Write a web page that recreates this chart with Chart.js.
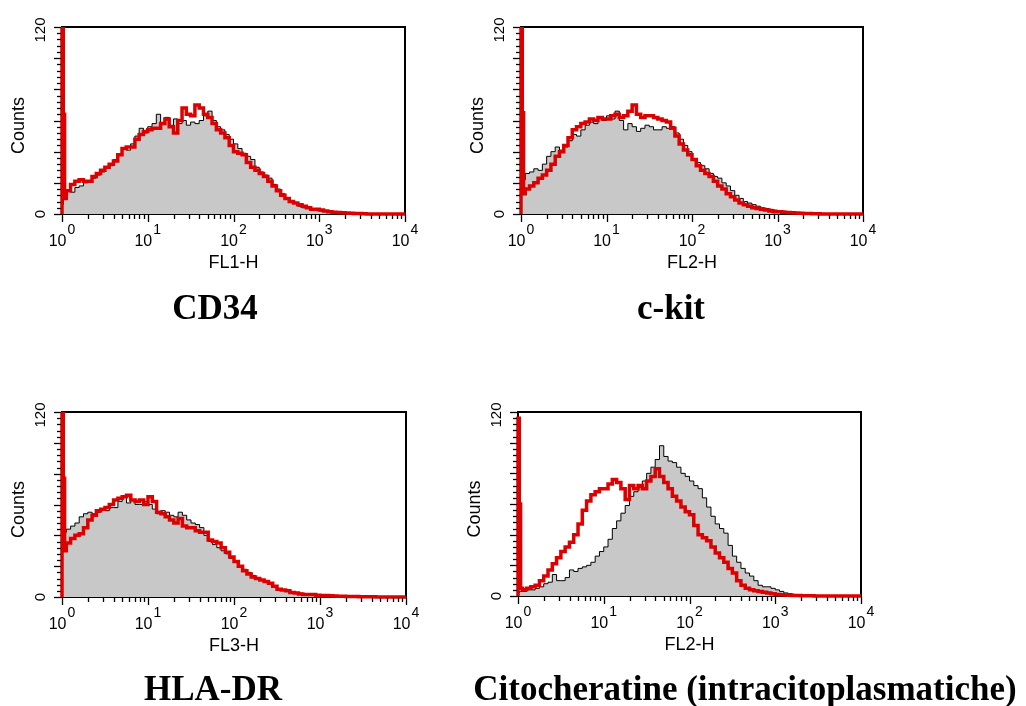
<!DOCTYPE html>
<html><head><meta charset="utf-8">
<script src="https://cdn.jsdelivr.net/npm/chart.js@4.4.0/dist/chart.umd.min.js"></script>
<style>
html,body{margin:0;padding:0;background:#fff;width:1026px;height:706px;overflow:hidden;}
.p{position:absolute;}
</style></head><body>
<div class="p" style="left:0;top:0;width:460px;height:353px"><canvas id="c1"></canvas></div>
<div class="p" style="left:460px;top:0;width:566px;height:353px"><canvas id="c2"></canvas></div>
<div class="p" style="left:0;top:353px;width:460px;height:353px"><canvas id="c3"></canvas></div>
<div class="p" style="left:460px;top:353px;width:566px;height:353px"><canvas id="c4"></canvas></div>
<script>
// channel positions in decades (log10 of fluorescence)
const channels = [0,0,0.015,0.03,
0.05,0.1,0.15,0.2,0.25,0.3,0.35,0.4,0.45,0.5,
0.55,0.6,0.65,0.7,0.75,0.8,0.85,0.9,0.95,1.0,
1.05,1.1,1.15,1.2,1.25,1.3,1.35,1.4,1.45,1.5,
1.55,1.6,1.65,1.7,1.75,1.8,1.85,1.9,1.95,2.0,
2.05,2.1,2.15,2.2,2.25,2.3,2.35,2.4,2.45,2.5,
2.55,2.6,2.65,2.7,2.75,2.8,2.85,2.9,2.95,3.0,
3.05,3.1,3.15,3.2,3.25,3.3,3.35,3.4,3.45,3.5,
3.55,3.6,3.65,3.7,3.75,3.8,3.85,3.9,3.95,4.0];

const titles = ['CD34','c-kit','HLA-DR','Citocheratine (intracitoplasmatiche)'];
const xAxisTitles = ['FL1-H','FL2-H','FL3-H','FL2-H'];
const yAxisTitle = 'Counts';
const xTickDecades = [0,1,2,3,4];
const xTickBase = '10';
const xTickExponents = ['0','1','2','3','4'];
const yTickValues = [0,120];
const yTickLabels = ['0','120'];

const cd34Control = [0,6,10,13,
15,14,17,18,20,21,23,25,27,30,
31,35,38,42,41,45,50,55,52,56,
58,64,58,62,57,61,58,60,57,59,
58,60,63,66,60,56,54,51,48,45,
42,39,37,35,30,27,25,23,19,16,
13,10,8,7,5,4,3.5,3,2.5,2,
2,1.5,1.2,1,0.8,0.5,0.5,0.3,0.3,0.2,
0.2,0,0,0,0,0,0,0,0,0];
const cd34Sample = [0,125,64,10,
15,19,21,22,21,21,24,26,28,30,
32,34,38,42,43,43,48,51,53,54,
55,55,58,61,56,52,60,68,64,63,
70,68,64,62,58,54,52,49,44,40,
39,38,33,30,28,26,24,21,18,15,
12,10,8,7,6,5,4,3,3,2.6,
2,1.5,1.2,1,0.8,0.6,0.5,0.3,0.3,0.2,
0,0,0,0,0,0,0,0,0,0];

const ckitControl = [0,20,24,22,
26,27,29,28,32,37,40,43,41,43,
47,51,50,54,57,59,58,62,60,63,
61,66,60,54,58,56,53,55,57,56,
54,54,56,55,56,52,48,44,40,35,
33,31,29,26,24,23,20,18,15,12,
10,8,7,6,5,4,3.5,3,2.5,2,
1.8,1.5,1.2,1,0.8,0.5,0.4,0.3,0.2,0.2,
0.1,0,0,0,0,0,0,0,0,0];
const ckitSample = [0,125,65,13,
16,18,20,23,25,28,32,37,40,44,
49,54,56,58,59,61,60,62,61,61,
63,64,62,63,66,70,64,62,63,63,
62,61,60,59,55,50,45,41,38,35,
31,28,26,24,21,18,16,13,11,9,
7,6,5,4,3.5,3,2.5,2,1.5,1.5,
1.2,1,0.8,0.6,0.5,0.4,0.3,0.2,0.1,0,
0,0,0,0,0,0,0,0,0,0];

const hladrControl = [0,30,40,42,
44,46,48,52,54,55,54,55,57,56,
58,58,62,65,61,63,60,60,62,60,
57,54,56,55,53,52,55,53,50,48,
47,45,40,36,34,32,30,28,25,23,
20,18,16,14,12,11,10,9,7,5,
4.5,4,3.5,3,2.5,2,1.8,1.7,1.5,1.3,
1.1,1,0.8,0.6,0.5,0.4,0.3,0.3,0.2,0.2,
0.1,0,0,0,0,0,0,0,0,0];
const hladrSample = [0,125,77,30,
35,38,40,41,45,50,53,56,57,58,
60,63,64,65,66,63,62,63,60,65,
62,55,54,52,50,48,51,46,45,45,
43,42,42,37,36,35,32,29,26,23,
20,17,15,13,12,11,10,9,7,5,
4.5,4,3,2.6,2,1.7,1.7,1.7,1.2,1,
1,0.8,0.6,0.5,0.5,0.4,0.3,0.3,0.2,0.2,
0.2,0.2,0,0,0,0,0,0,0,0.8];

const ckControl = [0,2,3,3,
3,4,4,5,6,8,9,14,10,10,
12,17,16,18,19,20,22,26,29,32,
37,44,49,54,59,65,68,71,75,80,
84,89,98,91,88,87,84,80,78,75,
72,70,64,58,52,47,44,41,33,26,
22,18,15,13,10,7,6,6,5,4,
3,2,1.5,1,0.8,0.6,0.5,0.4,0.3,0.3,
0.2,0.2,0.1,0,0,0,0,0,0,0];
const ckSample = [0,116,60,5,
4,5,6,7,10,13,17,21,25,29,
32,35,40,47,56,62,66,68,70,70,
73,76,74,70,63,72,70,72,70,75,
78,83,78,74,70,65,62,58,55,53,
46,40,38,36,32,28,25,22,18,15,
10,7,5,4,3.5,3,2.5,2,1.5,1,
0.8,0.6,0.5,0.4,0.3,0.2,0.2,0.1,0,0,
0,0,0,0,0,0,0,0,0,0];

const controls = [cd34Control, ckitControl, hladrControl, ckControl];
const samples = [cd34Sample, ckitSample, hladrSample, ckSample];

// layout (presentation only)
const layouts = [
  {id:'c1', pad:{left:62,right:55,top:27,bottom:139}, titleX:215, titleY:319},
  {id:'c2', pad:{left:61,right:163,top:27,bottom:139}, titleX:211, titleY:319},
  {id:'c3', pad:{left:62,right:54,top:59,bottom:109}, titleX:213, titleY:347},
  {id:'c4', pad:{left:58,right:165,top:59,bottom:110}, titleX:285, titleY:347}
];

const facsAxes = {
  id: 'facsAxes',
  beforeDatasetsDraw(chart) {
    const {ctx, chartArea: a} = chart;
    ctx.save();
    ctx.strokeStyle = '#000'; ctx.lineWidth = 2;
    ctx.strokeRect(a.left, a.top, a.right - a.left, a.bottom - a.top);
    ctx.restore();
  },
  afterDraw(chart, args, o) {
    const {ctx, chartArea: a, scales: {x, y}} = chart;
    ctx.save();
    ctx.strokeStyle = '#000'; ctx.lineWidth = 1.3;
    for (let v = 0; v <= 120; v += 4) {
      const py = Math.round(y.getPixelForValue(v)) + 0.5;
      const len = v % 20 === 0 ? 7 : 4;
      ctx.beginPath(); ctx.moveTo(a.left - 1, py); ctx.lineTo(a.left - 1 - len, py); ctx.stroke();
    }
    xTickDecades.forEach((n, i) => {
      const px = Math.round(x.getPixelForValue(n)) + 0.5;
      ctx.beginPath(); ctx.moveTo(px, a.bottom + 1); ctx.lineTo(px, a.bottom + 8); ctx.stroke();
      if (i < xTickDecades.length - 1) {
        for (let k = 2; k <= 9; k++) {
          const mx = Math.round(x.getPixelForValue(n + Math.log10(k))) + 0.5;
          ctx.beginPath(); ctx.moveTo(mx, a.bottom + 1); ctx.lineTo(mx, a.bottom + 5); ctx.stroke();
        }
      }
    });
    ctx.fillStyle = '#000';
    ctx.textBaseline = 'alphabetic';
    xTickDecades.forEach((n, i) => {
      const px = x.getPixelForValue(n);
      ctx.font = '16px "Liberation Sans", Arial, sans-serif';
      const w1 = ctx.measureText(xTickBase).width;
      ctx.font = '14px "Liberation Sans", Arial, sans-serif';
      const w2 = ctx.measureText(xTickExponents[i]).width;
      const sx = px - (w1 + w2 + 1) / 2;
      ctx.font = '16px "Liberation Sans", Arial, sans-serif';
      ctx.textAlign = 'left';
      ctx.fillText(xTickBase, sx, a.bottom + 32);
      ctx.font = '14px "Liberation Sans", Arial, sans-serif';
      ctx.fillText(xTickExponents[i], sx + w1 + 1, a.bottom + 20);
    });
    ctx.font = '18px "Liberation Sans", Arial, sans-serif';
    ctx.textAlign = 'center';
    ctx.fillText(o.xLabel, (a.left + a.right) / 2, a.bottom + 54);
    // rotated y labels
    ctx.textBaseline = 'middle';
    yTickValues.forEach((v, i) => {
      const py = y.getPixelForValue(v);
      ctx.save();
      ctx.translate(a.left - 21, py + (v === 0 ? 0 : 3));
      ctx.rotate(-Math.PI / 2);
      ctx.font = '15px "Liberation Sans", Arial, sans-serif';
      ctx.textAlign = 'center';
      ctx.fillText(yTickLabels[i], 0, 0);
      ctx.restore();
    });
    ctx.save();
    ctx.translate(a.left - 43, (a.top + a.bottom) / 2 + 5);
    ctx.rotate(-Math.PI / 2);
    ctx.font = '18px "Liberation Sans", Arial, sans-serif';
    ctx.textAlign = 'center';
    ctx.fillText(yAxisTitle, 0, 0);
    ctx.restore();
    // panel title
    ctx.textBaseline = 'alphabetic';
    ctx.textAlign = 'center';
    ctx.font = 'bold 35px "Liberation Serif", "Times New Roman", serif';
    ctx.fillText(o.title, o.titleX, o.titleY);
    ctx.restore();
  }
};

layouts.forEach((L, i) => {
  const ctl = channels.map((c, j) => ({x: c, y: controls[i][j]}));
  const smp = channels.map((c, j) => ({x: c, y: samples[i][j]}));
  new Chart(document.getElementById(L.id), {
    type: 'line',
    data: {
      datasets: [
        {data: smp, borderColor: '#dd0000', borderWidth: 3.5, fill: false, stepped: true,
         pointRadius: 0, clip: {left: 3, top: 0, right: 0, bottom: 3}},
        {data: ctl, borderColor: '#000', borderWidth: 1, backgroundColor: '#c8c8c8', fill: 'origin',
         stepped: true, pointRadius: 0, clip: {left: 2, top: 0, right: 0, bottom: 2}}
      ]
    },
    options: {
      responsive: true, maintainAspectRatio: false, animation: false,
      layout: {padding: L.pad},
      scales: {
        x: {type: 'linear', min: 0, max: 4, display: false},
        y: {type: 'linear', min: 0, max: 120, display: false}
      },
      plugins: {
        legend: {display: false}, tooltip: {enabled: false},
        facsAxes: {xLabel: xAxisTitles[i], title: titles[i], titleX: L.titleX, titleY: L.titleY}
      },
      events: []
    },
    plugins: [facsAxes]
  });
});
</script>
</body></html>
